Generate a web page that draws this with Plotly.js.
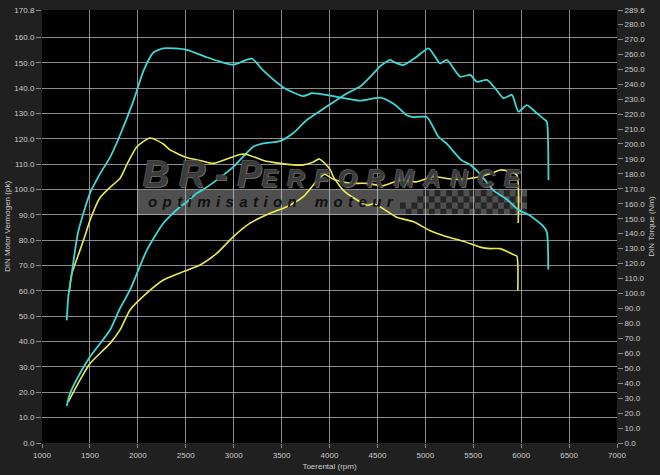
<!DOCTYPE html>
<html>
<head>
<meta charset="utf-8">
<script src="https://cdn.plot.ly/plotly-3.0.1.min.js"></script>
<style>html,body{margin:0;padding:0;background:#202020;}#chart{width:660px;height:475px;}</style>
</head>
<body>
<div id="chart"></div>
<script>
// Tuned (cyan) torque, Nm
const tunedTorqueRpm = [1258,1275,1310,1345,1380,1500,1605,1710,1815,1955,2060,2160,2265,2510,2720,2860,3000,3190,3310,3515,3725,3815,4040,4320,4530,4665,4740,4810,4875,5015,5135,5225,5380,5470,5570,5710,5850,5970,6095,6230,6268,6283];
const tunedTorqueNm  = [82,98,113,129,142,167,180,191,206,229,249,261,264,263,258,255,253,257,249,238,232,234,232,229,231,227,223,219,218,218,205,200,189,186,180,169,163,156,152,145,141,116];
// Tuned (cyan) power, pk
const tunedPowerRpm = [1258,1292,1397,1501,1710,1814,1919,2093,2266,2441,2510,2615,2683,2823,3000,3204,3308,3484,3620,3763,3971,4180,4319,4459,4528,4633,4667,4769,4911,5033,5102,5154,5224,5363,5468,5537,5642,5729,5816,5903,5972,6059,6163,6250,6268,6285];
const tunedPowerPk  = [14.6,19.5,27.5,34.0,44.6,53.1,60.4,76.0,86.7,93.2,95.0,98.5,100.0,103.7,109.0,116.9,118.2,119.1,122.2,127.4,132.7,137.9,140.6,145.8,148.6,151.1,150.4,149.1,152.4,155.7,152.4,149.7,151.1,144.5,145.2,142.5,143.2,139.9,136.0,137.3,130.7,133.3,130.1,127.4,126.7,103.7];
// Stock (yellow) torque, Nm
const stockTorqueRpm = [1285,1310,1397,1466,1501,1605,1710,1814,1884,1988,2127,2266,2336,2510,2649,2788,3066,3137,3310,3484,3623,3727,3832,3894,4006,4040,4145,4250,4389,4459,4528,4702,4876,5050,5224,5398,5572,5678,5781,5920,5955,5965];
const stockTorqueNm  = [101,113,129,142,149,164,171,177,186,198,204,200,196,191,189,187,193,193,189,187,186,186,188,190,183,178,169,164,159,160,158,151,148,142,138,135,131,130,130,126,125,102];
// Stock (yellow) power, pk
const stockPowerRpm = [1275,1397,1501,1710,1814,1919,2093,2266,2475,2649,2823,2997,3171,3380,3554,3727,3870,3950,4040,4200,4389,4560,4737,4900,5081,5300,5500,5700,5781,5885,5955,5969];
const stockPowerPk  = [16.3,24.9,31.4,39.3,44.6,52.5,59.1,64.3,67.6,70.2,74.8,81.4,86.7,90.6,93.2,97.2,103.5,106.0,104.0,102.5,102.4,101.5,103.7,103.0,105.0,104.0,104.5,106.5,107.7,107.0,105.7,86.8];

const leftTicks = [0,10,20,30,40,50,60,70,80,90,100,110,120,130,140,150,160,170.8];
const rightTicks = [0,10,20,30,40,50,60,70,80,90,100,110,120,130,140,150,160,170,180,190,200,210,220,230,240,250,260,270,280,289.6];
const xTitle = 'Toerental (rpm)';
const yTitle = 'DIN Motor Vermogen (pk)';
const y2Title = 'DIN Torque (Nm)';

const CYAN = '#3fd8d6', YELLOW = '#ebeb50';
const FONT = 'Liberation Sans, Arial, sans-serif';

const traces = [
  {x: stockTorqueRpm, y: stockTorqueNm, yaxis: 'y2', type: 'scatter', mode: 'lines', line: {color: YELLOW, width: 1.6, shape: 'spline', smoothing: 0.6}},
  {x: stockPowerRpm, y: stockPowerPk, type: 'scatter', mode: 'lines', line: {color: YELLOW, width: 1.6, shape: 'spline', smoothing: 0.6}},
  {x: tunedTorqueRpm, y: tunedTorqueNm, yaxis: 'y2', type: 'scatter', mode: 'lines', line: {color: CYAN, width: 1.8, shape: 'spline', smoothing: 0.6}},
  {x: tunedPowerRpm, y: tunedPowerPk, type: 'scatter', mode: 'lines', line: {color: CYAN, width: 1.8, shape: 'spline', smoothing: 0.6}}
];

// watermark decoration (paper coords; plot area 42..617 x 10..443)
const px = v => (v - 42) / 575;
const py = v => (443 - v) / 433;
const shapes = [
  {type: 'rect', xref: 'paper', yref: 'paper', x0: px(137), x1: px(527), y0: py(215), y1: py(190),
   fillcolor: 'rgba(105,105,105,0.75)', line: {width: 0}, layer: 'between'}
];
const cols = 22, rows = 4, x0c = 400, x1c = 527, y0c = 190, y1c = 215;
const cw = (x1c - x0c) / cols, ch = (y1c - y0c) / rows;
for (let c = 0; c < cols; c++) {
  for (let r = 0; r < rows; r++) {
    if ((c + r) % 2 === 0 && !(c < 3 && r < 2)) {
      shapes.push({type: 'rect', xref: 'paper', yref: 'paper',
        x0: px(x0c + c * cw), x1: px(x0c + (c + 1) * cw),
        y0: py(y0c + (r + 1) * ch), y1: py(y0c + r * ch),
        fillcolor: 'rgba(30,30,30,0.85)', line: {width: 0}, layer: 'between'});
    }
  }
}

const TS = '\u2009\u200a';
const annotations = [
  {xref: 'paper', yref: 'paper', x: px(141), y: py(175), xanchor: 'left', yanchor: 'middle', showarrow: false,
   text: '<b><i>B' + TS + 'R' + TS + '-' + TS + 'P</i></b><span style="font-size:24px"><b><i>' + 'ERFORMANCE'.split('').join('\u2009\u2009') + '</i></b></span>',
   font: {family: FONT, size: 36, color: 'rgba(52,52,52,0.85)', shadow: '1px 1px 0 #7a7a7a, -1px -1px 0 #5e5e5e'}},
  {xref: 'paper', yref: 'paper', x: px(146), y: py(202), xanchor: 'left', yanchor: 'middle', showarrow: false,
   text: 'optimisation'.split('').join(' \u200a') + ' \u200a\u00a0\u00a0\u00a0' + 'moteur'.split('').join(' \u200a'),
   font: {family: FONT, size: 15, color: '#111', weight: 'bold', style: 'italic'}}
];

const axisCommon = {
  tickfont: {family: FONT, size: 8, color: '#cccccc'},
  ticks: 'outside', ticklen: 5, tickcolor: '#8a8a8a', tickwidth: 1,
  zeroline: false, showline: false
};

const layout = {
  width: 660, height: 475,
  paper_bgcolor: '#202020', plot_bgcolor: '#000000',
  margin: {l: 42, r: 43, t: 10, b: 32},
  showlegend: false,
  hovermode: false,
  xaxis: Object.assign({}, axisCommon, {
    range: [1000, 7000], tickmode: 'linear', tick0: 1000, dtick: 500, ticklen: 4,
    showgrid: true, gridcolor: 'rgba(200,200,200,0.7)', gridwidth: 1,
    title: {text: xTitle, font: {family: FONT, size: 8, color: '#cccccc'}, standoff: 4}
  }),
  yaxis: Object.assign({}, axisCommon, {
    range: [0, 170.8], tickmode: 'array', tickvals: leftTicks, tickformat: '.1f',
    showgrid: true, gridcolor: 'rgba(200,200,200,0.7)', gridwidth: 1,
    title: {text: yTitle, font: {family: FONT, size: 8, color: '#cccccc'}, standoff: 2}
  }),
  yaxis2: Object.assign({}, axisCommon, {
    overlaying: 'y', side: 'right',
    range: [0, 289.6], tickmode: 'array', tickvals: rightTicks, tickformat: '.1f',
    showgrid: false,
    title: {text: y2Title, font: {family: FONT, size: 8, color: '#cccccc'}, standoff: 4}
  }),
  shapes: shapes,
  annotations: annotations
};

Plotly.newPlot('chart', traces, layout, {staticPlot: true, displayModeBar: false});
</script>
</body>
</html>
